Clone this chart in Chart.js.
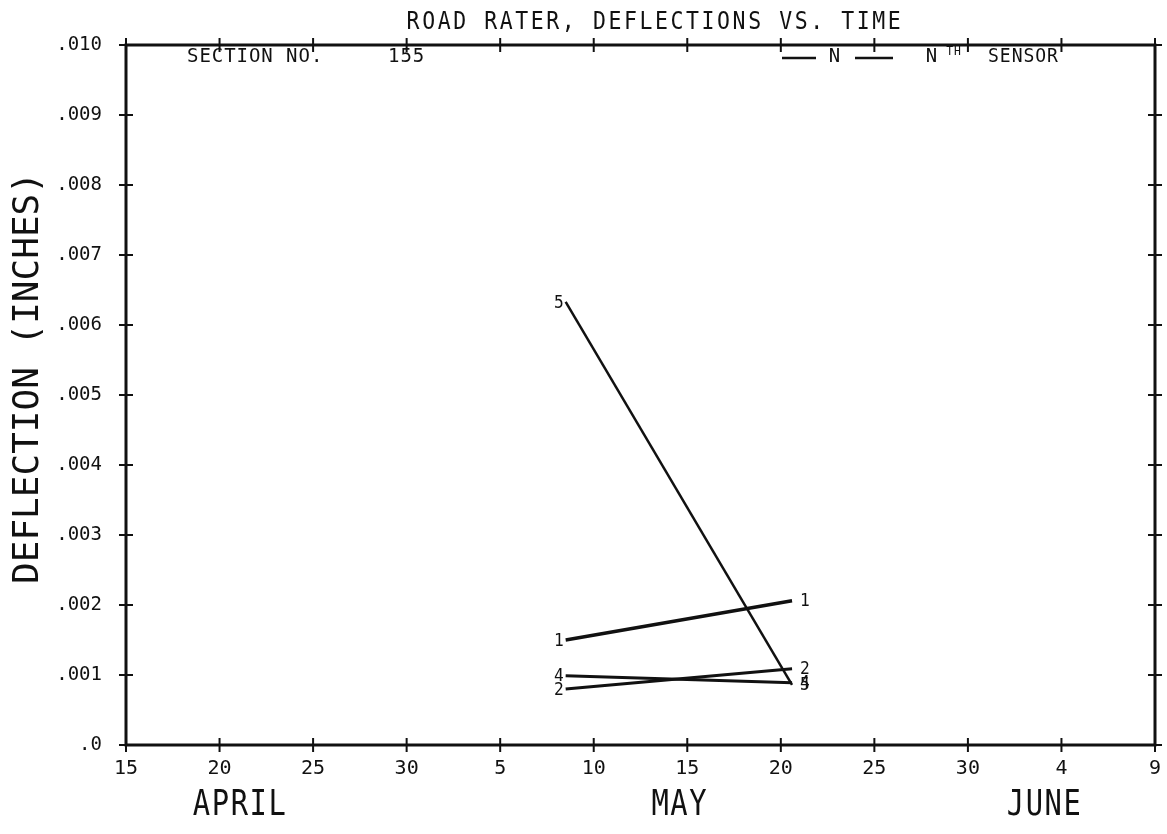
<!DOCTYPE html>
<html>
<head>
<meta charset="utf-8">
<script src="https://cdn.jsdelivr.net/npm/chart.js@4.4.1/dist/chart.umd.min.js"></script>
<style>
  html, body { margin: 0; padding: 0; background: #fff; }
  #wrap { width: 1167px; height: 834px; }
</style>
</head>
<body>
<div id="wrap"><canvas id="deflChart"></canvas></div>
<script>
// Days counted from April 15 (x axis runs April 15 .. June 9)
const dayTickLabels = ['15', '20', '25', '30', '5', '10', '15', '20', '25', '30', '4', '9'];
const yTickLabels = ['.0', '.001', '.002', '.003', '.004', '.005', '.006', '.007', '.008', '.009', '.010'];
const months = ['APRIL', 'MAY', 'JUNE'];
const monthDays = [6.1, 29.6, 49.1];

// test dates (May 8-9 and May 20-21)
const testDays = [23.5, 35.6];

// deflections (inches) per sensor
const sensorNames = ['1', '2', '4', '5'];
const sensor1 = [0.0015, 0.00206];
const sensor2 = [0.0008, 0.00109];
const sensor4 = [0.00099, 0.00089];
const sensor5 = [0.00633, 0.00086];

const FONT = '"DejaVu Sans Mono", monospace';
const INK = '#111';

const makeSet = (name, values, width) => ({
    label: name,
    data: values.map((v, i) => ({ x: testDays[i], y: v })),
    borderColor: INK,
    borderWidth: width,
    pointRadius: 0,
    fill: false,
    tension: 0
});

// plotter lettering: tall and a bit narrow
function plotText(ctx, text, px, py, size, squeeze) {
    ctx.save();
    ctx.translate(px, py);
    ctx.scale(squeeze, 1);
    ctx.font = size + 'px ' + FONT;
    ctx.fillText(text, 0, 0);
    ctx.restore();
}

// draws the plotter-style frame, tick crosses and all the texts
const plotterFrame = {
    id: 'plotterFrame',
    afterDraw(chart) {
        const { ctx, chartArea: a, scales: { x, y } } = chart;
        ctx.save();
        ctx.strokeStyle = INK;
        ctx.fillStyle = INK;

        // frame
        ctx.lineWidth = 3;
        ctx.strokeRect(a.left, a.top, a.right - a.left, a.bottom - a.top);

        // tick crosses on all four sides
        ctx.lineWidth = 2;
        for (let d = 0; d <= 55; d += 5) {
            const px = x.getPixelForValue(d);
            [a.top, a.bottom].forEach(py => {
                ctx.beginPath();
                ctx.moveTo(px, py - 7);
                ctx.lineTo(px, py + 7);
                ctx.stroke();
            });
        }
        for (let i = 0; i <= 10; i++) {
            const py = y.getPixelForValue(i / 1000);
            [a.left, a.right].forEach(px => {
                ctx.beginPath();
                ctx.moveTo(px - 7, py);
                ctx.lineTo(px + 7, py);
                ctx.stroke();
            });
        }

        // title
        ctx.textBaseline = 'middle';
        ctx.textAlign = 'center';
        ctx.letterSpacing = '3px';
        plotText(ctx, 'ROAD RATER, DEFLECTIONS VS. TIME', 655, 22, 25, 0.86);
        ctx.letterSpacing = '1px';

        // section no.
        ctx.textAlign = 'left';
        plotText(ctx, 'SECTION NO.', 187, 57, 20, 0.95);
        plotText(ctx, '155', 388, 57, 20, 0.95);

        // legend key
        ctx.lineWidth = 2.5;
        ctx.beginPath();
        ctx.moveTo(782, 58); ctx.lineTo(816, 58);
        ctx.moveTo(855, 58); ctx.lineTo(893, 58);
        ctx.stroke();
        ctx.textAlign = 'center';
        plotText(ctx, 'N', 835, 57, 20, 0.95);
        plotText(ctx, 'N', 932, 57, 20, 0.95);
        plotText(ctx, 'TH', 954, 52, 12, 0.95);
        ctx.textAlign = 'left';
        plotText(ctx, 'SENSOR', 988, 57, 19, 0.95);

        // month names
        ctx.textAlign = 'center';
        ctx.letterSpacing = '2px';
        months.forEach((m, i) => {
            plotText(ctx, m, x.getPixelForValue(monthDays[i]), 806, 36, 0.8);
        });

        // y title
        ctx.save();
        ctx.translate(29, 378);
        ctx.rotate(-Math.PI / 2);
        ctx.letterSpacing = '0px';
        plotText(ctx, 'DEFLECTION (INCHES)', 0, 0, 36, 1);
        ctx.restore();

        // sensor numbers at both ends of every line
        ctx.letterSpacing = '0px';
        chart.data.datasets.forEach(ds => {
            const first = ds.data[0];
            const last = ds.data[ds.data.length - 1];
            ctx.textAlign = 'right';
            plotText(ctx, ds.label, x.getPixelForValue(first.x) - 2, y.getPixelForValue(first.y) + 1, 18, 0.9);
            ctx.textAlign = 'left';
            plotText(ctx, ds.label, x.getPixelForValue(last.x) + 8, y.getPixelForValue(last.y) + 1, 18, 0.9);
        });

        ctx.restore();
    }
};

const chart = new Chart(document.getElementById('deflChart'), {
    type: 'line',
    data: {
        datasets: [
            makeSet(sensorNames[0], sensor1, 3.5),
            makeSet(sensorNames[1], sensor2, 3),
            makeSet(sensorNames[2], sensor4, 3),
            makeSet(sensorNames[3], sensor5, 2.5)
        ]
    },
    options: {
        responsive: true,
        maintainAspectRatio: false,
        animation: false,
        layout: {
            padding: { top: 45, right: 12, left: 0, bottom: 0 }
        },
        plugins: {
            legend: { display: false },
            tooltip: { enabled: false }
        },
        scales: {
            x: {
                type: 'linear',
                min: 0,
                max: 55,
                afterFit: (scale) => {
                    scale.height = 89;
                    scale.paddingRight = 0;
                    scale.paddingLeft = 0;
                },
                grid: { display: false, drawTicks: false },
                border: { display: false },
                ticks: {
                    stepSize: 5,
                    padding: 12,
                    color: INK,
                    font: { family: FONT, size: 20 },
                    callback: (v) => dayTickLabels[Math.round(v / 5)]
                }
            },
            y: {
                min: 0,
                max: 0.010,
                afterFit: (scale) => {
                    scale.width = 126;
                    scale.paddingTop = 0;
                    scale.paddingBottom = 0;
                },
                grid: { display: false, drawTicks: false },
                border: { display: false },
                ticks: {
                    stepSize: 0.001,
                    padding: 24,
                    color: INK,
                    font: { family: FONT, size: 19 },
                    callback: (v) => yTickLabels[Math.round(v * 1000)]
                }
            }
        }
    },
    plugins: [plotterFrame]
});
</script>
</body>
</html>
